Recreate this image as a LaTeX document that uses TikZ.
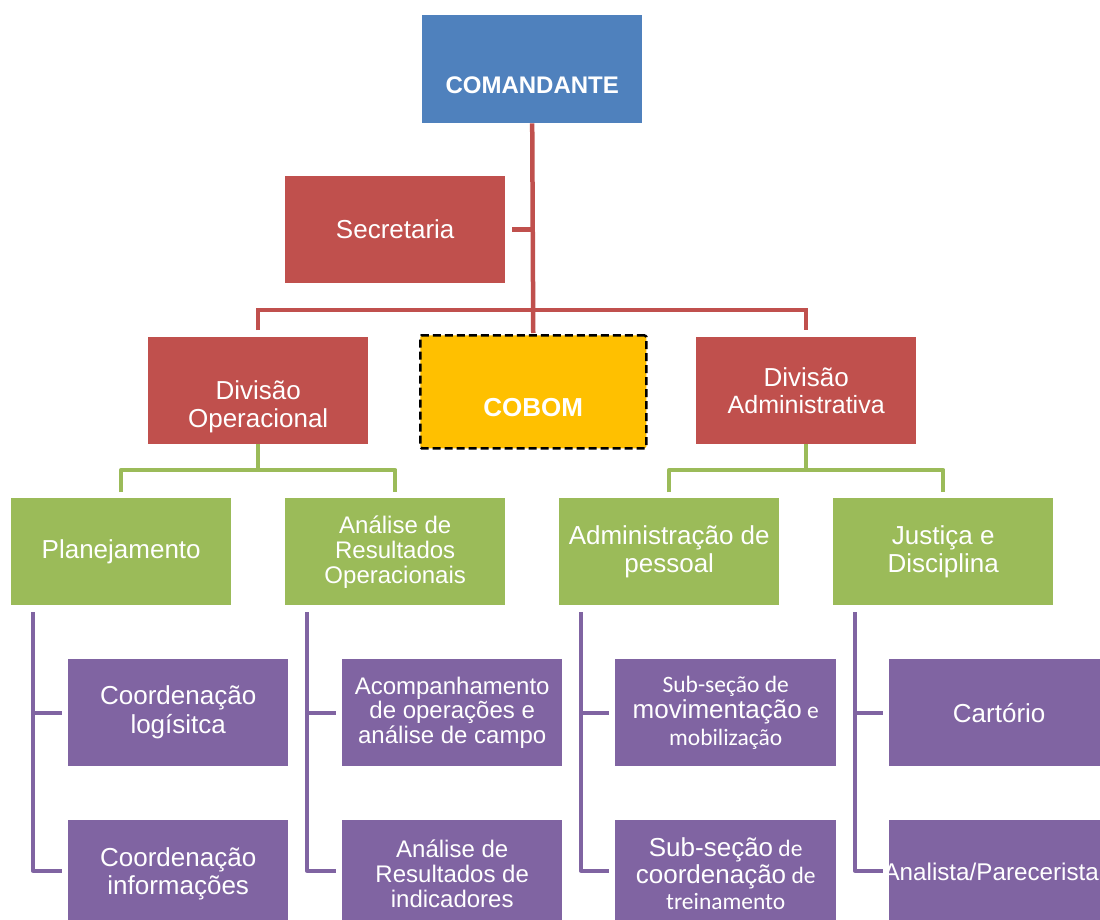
\documentclass[tikz,border=0pt]{standalone}
\usepackage{fontspec}
\setmainfont{Liberation Sans}
\newfontfamily\calfont{Carlito}
\definecolor{cblue}{HTML}{4F81BD}
\definecolor{cred}{HTML}{C0504D}
\definecolor{cgold}{HTML}{FFC000}
\definecolor{cgreen}{HTML}{9BBB59}
\definecolor{cpurple}{HTML}{8064A2}
\newcommand{\bigf}{\fontsize{26}{28}\selectfont}
\newcommand{\midf}{\fontsize{24}{25}\selectfont}
\newcommand{\smf}{\calfont\fontsize{23.5}{26.5}\selectfont}
\begin{document}
\begin{tikzpicture}[x=1pt,y=-1pt,
  box/.style={rectangle, minimum width=220pt, minimum height=107pt, inner sep=0pt,
    text=white, align=center, anchor=north west, font=\bigf},
  lbl/.style={text=white, align=center, inner sep=0pt},
  rline/.style={draw=cred, line width=4.5pt},
  gline/.style={draw=cgreen, line width=4.5pt, line join=round},
  pline/.style={draw=cpurple, line width=4pt, line join=round}]
\useasboundingbox (0,0) rectangle (1100,920);
\clip (0,0) rectangle (1100,920);
\fill[white] (0,0) rectangle (1100,920);

% boxes
\node[box, fill=cblue, minimum height=108pt] (com) at (422,15) {};
\node[box, fill=cred] (sec) at (285,176) {Secretaria};
\node[box, fill=cred] (divop) at (148,337) {};
\node[box, fill=cgold, minimum width=226pt, minimum height=113pt, draw=black,
      line width=2.5pt, dash pattern=on 8pt off 4pt, rounded corners=1.5pt] (cobom) at (419,334) {};
\node[box, fill=cred] (divadm) at (696,337) {Divisão\\[-2pt]{\fontsize{25}{26}\selectfont Administrativa}};

\node[box, fill=cgreen] (plan) at (11,498) {Planejamento};
\node[box, fill=cgreen, font=\midf] (ana) at (285,498) {Análise de\\Resultados\\Operacionais};
\node[box, fill=cgreen] (adm) at (559,498) {Administração de\\pessoal};
\node[box, fill=cgreen] (just) at (833,498) {Justiça e\\Disciplina};

\node[box, fill=cpurple, font=\fontsize{26}{29}\selectfont] (c1) at (68,659) {Coordenação\\logísitca};
\node[box, fill=cpurple, font=\fontsize{26}{28}\selectfont] (c2) at (68,820) {Coordenação\\informações};
\node[box, fill=cpurple, font=\fontsize{24}{24.5}\selectfont] (a1) at (342,659) {Acompanhamento\\de operações e\\análise de campo};
\node[box, fill=cpurple, font=\fontsize{24}{25}\selectfont] (a2) at (342,820) {Análise de\\Resultados de\\indicadores};
\node[box, fill=cpurple, minimum width=221pt, font=\smf] (s1) at (615,659)
  {Sub-seção de\\{\rmfamily\fontsize{26}{26.5}\selectfont movimentação} e\\mobilização};
\node[box, fill=cpurple, minimum width=221pt, font=\smf] (s2) at (615,820)
  {{\rmfamily\fontsize{26}{27}\selectfont Sub-seção} de\\{\rmfamily\fontsize{26}{27}\selectfont coordenação} de\\treinamento};
\node[box, fill=cpurple] (j1) at (889,659) {Cartório};
\node[box, fill=cpurple] (j2) at (889,820) {};

% shifted / adjusted labels
\node[lbl, font=\bfseries\fontsize{24}{26}\selectfont] (comt) at ([yshift=-16pt]com.center) {COMANDANTE};
\node[lbl, font=\bigf] (divopt) at ([yshift=-16pt]divop.center) {Divisão\\Operacional};
\node[lbl, font=\bfseries\fontsize{26}{28}\selectfont] (cobomt) at ([yshift=-16pt]cobom.center) {COBOM};
\node[lbl, font=\fontsize{24.2}{26}\selectfont, anchor=east] (j2t) at ([xshift=-1pt,yshift=2pt]0:1100 |- j2.center) {Analista/Parecerista};

% red connectors
\draw[rline] (com.south) -- ([yshift=1pt]cobom.north);
\draw[rline] ([xshift=7pt]sec.east) -- (sec.east -| com.south);
\draw[rline] ([yshift=7pt]divop.north) |- ([yshift=27pt]divop.north) -| ([yshift=7pt]divadm.north);

% green connectors
\draw[gline] (divop.south) -- ([yshift=28pt]plan.north -| divop.south);
\draw[gline] ([yshift=6pt]plan.north) |- ([yshift=28pt]plan.north) -| ([yshift=6pt]ana.north);
\draw[gline] (divadm.south) -- ([yshift=28pt]adm.north -| divadm.south);
\draw[gline] ([yshift=6pt]adm.north) |- ([yshift=28pt]adm.north) -| ([yshift=6pt]just.north);

% purple connectors
\coordinate (pv1) at ([xshift=22pt,yshift=-7pt]plan.south west);
\coordinate (pv2) at ([xshift=22pt,yshift=-7pt]ana.south west);
\coordinate (pv3) at ([xshift=22pt,yshift=-7pt]adm.south west);
\coordinate (pv4) at ([xshift=22pt,yshift=-7pt]just.south west);
\draw[pline] (pv1) |- ([xshift=-6pt,yshift=3pt]c2.west);
\draw[pline] (pv1 |- c1.west) -- ([xshift=-6pt]c1.west);
\draw[pline] (pv2) |- ([xshift=-6pt,yshift=3pt]a2.west);
\draw[pline] (pv2 |- a1.west) -- ([xshift=-6pt]a1.west);
\draw[pline] (pv3) |- ([xshift=-6pt,yshift=3pt]s2.west);
\draw[pline] (pv3 |- s1.west) -- ([xshift=-6pt]s1.west);
\draw[pline] (pv4) |- ([xshift=-6pt,yshift=3pt]j2.west);
\draw[pline] (pv4 |- j1.west) -- ([xshift=-6pt]j1.west);
\end{tikzpicture}
\end{document}
